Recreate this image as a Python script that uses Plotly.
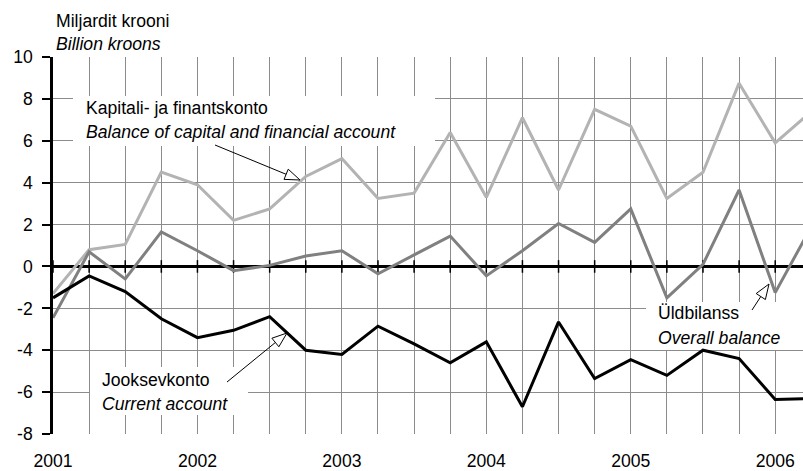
import math
import plotly.graph_objects as go

# ---- data (quarterly, 2001 Q1 ... 2006 Q2) ----
quarters = list(range(22))
year_labels = ["2001", "2002", "2003", "2004", "2005", "2006"]
capital_financial = [-1.3, 0.8, 1.05, 4.5, 3.9, 2.2, 2.75, 4.3, 5.15, 3.25, 3.5, 6.4,
                     3.3, 7.1, 3.65, 7.5, 6.7, 3.25, 4.5, 8.75, 5.9, 7.4]
overall_balance = [-2.45, 0.7, -0.6, 1.65, 0.75, -0.2, 0.05, 0.5, 0.75, -0.35, 0.55, 1.45,
                   -0.45, 0.75, 2.05, 1.15, 2.75, -1.5, 0.1, 3.65, -1.25, 1.9]
current_account = [-1.5, -0.45, -1.2, -2.5, -3.4, -3.05, -2.4, -4.0, -4.2, -2.85, -3.7, -4.6,
                   -3.6, -6.7, -2.65, -5.35, -4.45, -5.2, -4.0, -4.4, -6.35, -6.3]
y_ticks = [-8, -6, -4, -2, 0, 2, 4, 6, 8, 10]

# ---- layout geometry ----
W, H = 803, 471
ML, MR, MT, MB = 53, 0, 57, 37
X0, X1 = 0, 20.77
Y0, Y1 = -8, 10
PW, PH = W - ML - MR, H - MT - MB
FONT = "Arial, Liberation Sans, Helvetica, sans-serif"
FS = 17.6


def dx(px):
    return X0 + (px - ML) / PW * (X1 - X0)


def dy(py):
    return Y1 - (py - MT) / PH * (Y1 - Y0)


def ppx(px):
    return (px - ML) / PW


def ppy(py):
    return 1 - (py - MT) / PH


fig = go.Figure()

# tick marks crossing the zero line
fig.add_trace(go.Scatter(
    x=quarters, y=[0] * len(quarters), mode="markers",
    marker=dict(symbol="line-ns", size=9, line=dict(color="black", width=1.5)),
    hoverinfo="skip", showlegend=False))

fig.add_trace(go.Scatter(x=quarters, y=capital_financial, mode="lines",
                         line=dict(color="#b3b3b3", width=3), showlegend=False))
fig.add_trace(go.Scatter(x=quarters, y=overall_balance, mode="lines",
                         line=dict(color="#808080", width=3), showlegend=False))
fig.add_trace(go.Scatter(x=quarters, y=current_account, mode="lines",
                         line=dict(color="black", width=3), showlegend=False))

shapes = []
# white label boxes (between grid and traces)
for (x0, y0, x1, y1) in [(73, 96, 435, 146), (90, 367, 248, 415), (646, 302, 810, 350)]:
    shapes.append(dict(type="rect", xref="x", yref="y", layer="between",
                       x0=dx(x0), x1=dx(x1), y0=dy(y0), y1=dy(y1),
                       fillcolor="white", line=dict(width=0)))


def arrow(tail, tip, hl=15, hw=5.5):
    ux, uy = tip[0] - tail[0], tip[1] - tail[1]
    n = math.hypot(ux, uy)
    ux, uy = ux / n, uy / n
    bx, by = tip[0] - hl * ux, tip[1] - hl * uy
    nx, ny = -uy, ux
    c1 = (bx + hw * nx, by + hw * ny)
    c2 = (bx - hw * nx, by - hw * ny)
    line = dict(type="line", xref="x", yref="y", x0=dx(tail[0]), y0=dy(tail[1]),
                x1=dx(bx), y1=dy(by), line=dict(color="black", width=1))
    path = "M {} {} L {} {} L {} {} Z".format(dx(tip[0]), dy(tip[1]), dx(c1[0]), dy(c1[1]),
                                              dx(c2[0]), dy(c2[1]))
    head = dict(type="path", xref="x", yref="y", path=path, fillcolor="white",
                line=dict(color="black", width=1))
    return [line, head]


shapes += arrow((215, 145), (300, 180))
shapes += arrow((227, 382), (287, 333))
shapes += arrow((752, 310), (769, 284))

annotations = []


def label(text, px, py, italic=False):
    annotations.append(dict(
        text="<i>{}</i>".format(text) if italic else text,
        x=ppx(px), y=ppy(py), xref="paper", yref="paper", xanchor="left", yanchor="middle",
        showarrow=False, font=dict(family=FONT, size=FS, color="black")))


label("Miljardit krooni", 54, 21)
label("Billion kroons", 54, 44, italic=True)
label("Kapitali- ja finantskonto", 84, 108)
label("Balance of capital and financial account", 84, 132, italic=True)
label("Jooksevkonto", 100, 380)
label("Current account", 100, 404, italic=True)
label("Üldbilanss", 656, 313)
label("Overall balance", 656, 338, italic=True)

fig.update_layout(
    width=W, height=H,
    margin=dict(l=ML, r=MR, t=MT, b=MB),
    paper_bgcolor="white", plot_bgcolor="white",
    font=dict(family=FONT, size=FS, color="black"),
    shapes=shapes, annotations=annotations,
    xaxis=dict(range=[X0, X1], tickmode="array", tickvals=quarters,
               ticktext=[year_labels[i // 4] if i % 4 == 0 else "" for i in quarters],
               showgrid=True, gridcolor="#8c8c8c", gridwidth=1,
               showline=False, zeroline=False, ticks="", ticklabelstandoff=14,
               tickfont=dict(size=FS)),
    yaxis=dict(range=[Y0, Y1], tickmode="array", tickvals=y_ticks,
               ticktext=[str(v) for v in y_ticks],
               showgrid=True, gridcolor="#8c8c8c", gridwidth=1,
               zeroline=True, zerolinecolor="black", zerolinewidth=2.5,
               showline=True, linecolor="black", linewidth=2.5,
               ticks="outside", ticklen=8, tickwidth=2, tickcolor="black",
               ticklabelstandoff=6, tickfont=dict(size=FS)),
)

fig.write_html("out.html", config={"displayModeBar": False},
               post_script="document.body.style.margin='0';")
